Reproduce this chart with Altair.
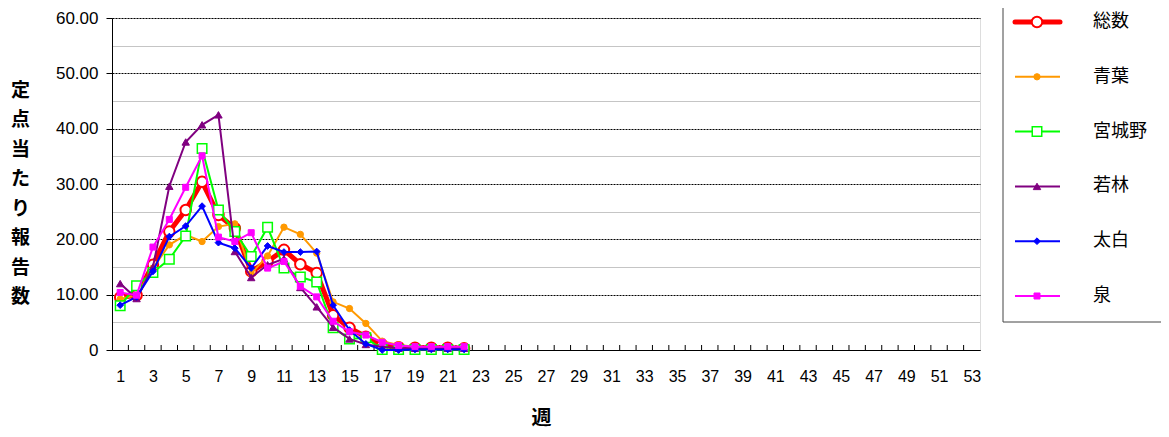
import altair as alt
import pandas as pd

weeks = list(range(1, 23))
series_names = ["総数", "青葉", "宮城野", "若林", "太白", "泉"]

v_total = [9.5, 9.9, 15.4, 21.4, 25.3, 30.4, 24.4, 22.0, 14.2, 16.0, 18.1, 15.5, 13.9, 6.3, 4.0, 2.4, 0.9, 0.5, 0.4, 0.4, 0.4, 0.3]
v_aoba = [9.2, 9.9, 14.8, 19.0, 20.8, 19.6, 22.3, 22.8, 13.8, 17.0, 22.2, 20.9, 17.5, 8.7, 7.5, 4.8, 1.6, 0.9, 0.6, 0.5, 0.5, 0.4]
v_miyagino = [8.0, 11.6, 14.0, 16.4, 20.6, 36.4, 25.3, 21.4, 16.9, 22.2, 14.8, 13.2, 12.3, 4.0, 2.0, 2.2, 0.1, 0.1, 0.1, 0.1, 0.1, 0.1]
v_wakabayashi = [12.0, 9.3, 15.0, 29.6, 37.6, 40.7, 42.5, 17.8, 13.1, 15.4, 16.5, 11.3, 7.8, 4.1, 2.0, 1.0, 0.6, 0.3, 0.3, 0.3, 0.3, 0.3]
v_taihaku = [8.1, 9.6, 14.2, 20.5, 22.4, 26.0, 19.4, 18.4, 14.8, 18.8, 17.7, 17.7, 17.8, 8.1, 3.6, 1.1, 0.0, 0.0, 0.1, 0.1, 0.1, 0.1]
v_izumi = [10.4, 9.9, 18.6, 23.6, 29.4, 35.1, 20.4, 19.6, 21.2, 14.8, 16.0, 11.5, 9.6, 5.2, 3.3, 2.7, 1.4, 0.8, 0.6, 0.6, 0.6, 0.6]

series_values = [v_total, v_aoba, v_miyagino, v_wakabayashi, v_taihaku, v_izumi]

colors = ["#FF0000", "#FF9900", "#00FF00", "#800080", "#0000FF", "#FF00FF"]
shapes = ["circle", "circle", "square", "triangle-up", "diamond", "square"]
fills = ["#FFFFFF", "#FF9900", "#FFFFFF", "#800080", "#0000FF", "#FF00FF"]
line_widths = [5, 2, 2, 2, 2, 2]
point_sizes = [110, 40, 90, 55, 45, 36]
point_strokes = [2, 1, 1.5, 1, 1, 1]

odd_weeks = list(range(1, 54, 2))
boundaries = [w + 0.5 for w in range(1, 53)]
y_values = list(range(0, 61, 5))

x_enc = alt.X(
    "week:Q",
    scale=alt.Scale(domain=[0.5, 53.5], nice=False, zero=False),
    axis=alt.Axis(
        values=odd_weeks, ticks=False, tickSize=0, grid=False,
        labelPadding=18, labelFontSize=16, labelFont="Liberation Sans", labelColor="black",
        domainColor="black", domainWidth=1, labelFlush=False, labelOverlap=False,
        title="週", titleFont="Noto Sans CJK JP", titleFontSize=20, titleFontWeight="bold",
        titleX=429, titleY=68, titleAlign="center", titleBaseline="middle", titleColor="black",
    ),
)
y_enc = alt.Y(
    "value:Q",
    scale=alt.Scale(domain=[0, 60], nice=False),
    axis=alt.Axis(
        values=y_values,
        labelExpr="datum.value % 10 != 0 ? '' : (datum.value == 0 ? '0' : format(datum.value, '.2f'))",
        tickSize=6, tickColor="black",
        tickOpacity={"condition": {"test": "datum.value % 10 != 0", "value": 0}, "value": 1},
        labelPadding=8, labelFontSize=17, labelFont="Liberation Sans", labelColor="black",
        domainColor="black", domainWidth=1,
        grid=True, gridWidth=1,
        gridDash={"condition": {"test": "datum.value % 10 == 0", "value": [2, 1]}, "value": [1, 1]},
        gridColor={"condition": {"test": "datum.value % 10 == 0", "value": "#000000"}, "value": "#8a8a8a"},
        title=["定", "点", "当", "た", "り", "報", "告", "数"],
        titleAngle=0, titleX=-92, titleY=63, titleAlign="center", titleBaseline="top",
        titleFont="Noto Sans CJK JP", titleFontSize=19, titleFontWeight="bold",
        titleLineHeight=29.5, titleColor="black",
    ),
)

tick_df = pd.DataFrame({"week": boundaries, "value": [0] * len(boundaries)})
ticks = alt.Chart(tick_df).mark_rule(color="black", strokeWidth=1).encode(
    x=x_enc, y=y_enc, y2=alt.value(327)
)

main_layers = [ticks]
for i, name in enumerate(series_names):
    d = pd.DataFrame({"week": weeks, "value": series_values[i], "series": name})
    line = alt.Chart(d).mark_line(color=colors[i], strokeWidth=line_widths[i]).encode(x=x_enc, y=y_enc)
    pts = alt.Chart(d).mark_point(
        shape=shapes[i], filled=True, fill=fills[i], stroke=colors[i],
        strokeWidth=point_strokes[i], size=point_sizes[i], opacity=1,
    ).encode(x=x_enc, y=y_enc)
    main_layers += [line, pts]

main = alt.layer(*main_layers)

leg_scale = alt.Scale(type="point", domain=series_names, range=[4, 278], padding=0)
box = alt.Chart(alt.Data(values=[{"a": 1}])).mark_rect(
    fill="white", stroke="#444444", strokeWidth=1
).encode(x=alt.value(891), x2=alt.value(1056), y=alt.value(-20), y2=alt.value(304))

legend_layers = [box]
for i, name in enumerate(series_names):
    ld = pd.DataFrame({"series": [name]})
    ly = alt.Y("series:N", scale=leg_scale, axis=None)
    lr = alt.Chart(ld).mark_rule(color=colors[i], strokeWidth=line_widths[i], strokeCap="round" if i == 0 else "butt").encode(
        x=alt.value(903), x2=alt.value(948), y=ly
    )
    lp = alt.Chart(ld).mark_point(
        shape=shapes[i], filled=True, fill=fills[i], stroke=colors[i],
        strokeWidth=point_strokes[i], size=point_sizes[i], opacity=1,
    ).encode(x=alt.value(925), y=ly)
    lt = alt.Chart(ld).mark_text(
        align="left", baseline="middle", font="Noto Sans CJK JP", fontSize=18, color="black"
    ).encode(x=alt.value(981), y=ly, text="series:N")
    legend_layers += [lr, lp, lt]

legend = alt.layer(*legend_layers)

chart = alt.layer(main, legend).resolve_scale(y="independent", x="independent").properties(
    width=868, height=332,
    autosize=alt.AutoSizeParams(type="none"),
    padding={"left": 104, "top": 10, "right": 181, "bottom": 79},
).configure_view(stroke="black", strokeWidth=1).configure(background="white")

chart.save("out.html", embed_options={"renderer": "svg", "actions": False})
